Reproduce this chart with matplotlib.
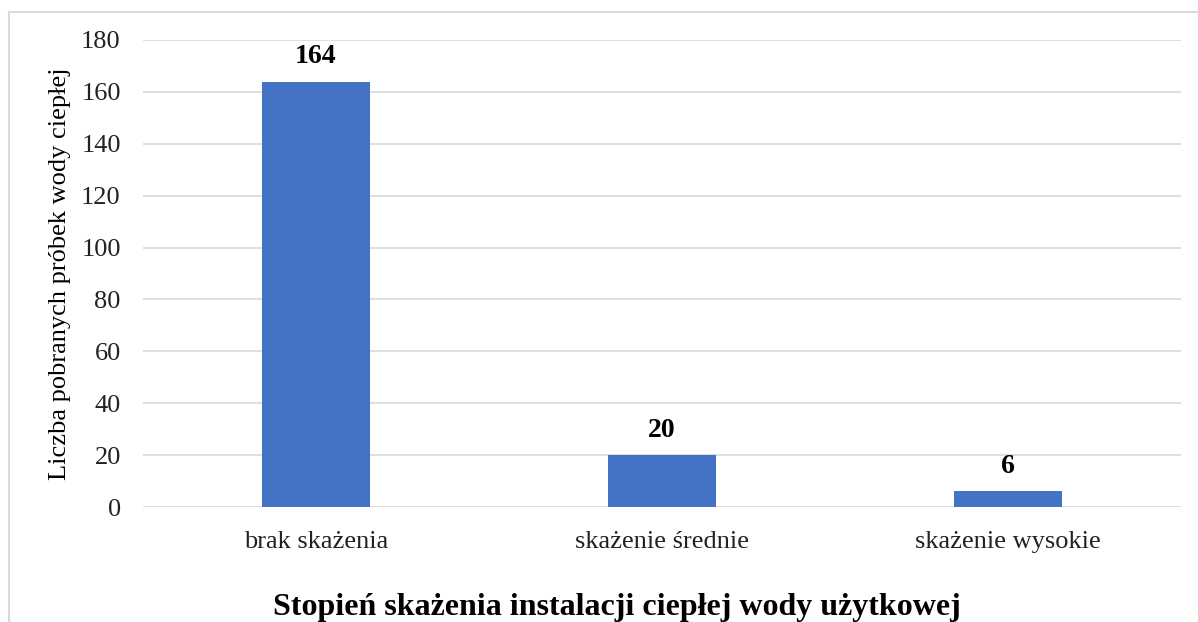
import matplotlib.pyplot as plt
from matplotlib.lines import Line2D

# data
categories = ["brak skażenia", "skażenie średnie", "skażenie wysokie"]
counts = [164, 20, 6]
y_ticks = list(range(0, 181, 20))

plt.rcParams["font.family"] = ["Liberation Serif", "DejaVu Serif"]

W, H = 1198, 622
fig = plt.figure(figsize=(W / 100, H / 100), dpi=100)
ax = fig.add_axes([143 / W, 1 - 507 / H, (1181 - 143) / W, (507 - 40) / H])

x = range(len(categories))
ax.bar(x, counts, width=0.315, color="#4472C4", zorder=3)

for i, v in enumerate(counts):
    ax.annotate(str(v), (i, v), xytext=(0, 9), textcoords="offset points",
                ha="center", va="bottom", fontsize=20, fontweight="bold")

ax.set_xlim(-0.5, len(categories) - 0.5)
ax.set_ylim(0, 180)
ax.set_yticks(y_ticks)
ax.set_xticks(list(x))
ax.set_xticklabels(categories)
ax.tick_params(axis="both", length=0, labelsize=19, colors="#222222")
ax.tick_params(axis="x", pad=17)
ax.tick_params(axis="y", pad=16)
ax.grid(axis="y", color="#d9d9d9", linewidth=1.2, zorder=0)
for s in ["top", "right", "left", "bottom"]:
    ax.spines[s].set_visible(False)

ax.set_ylabel("Liczba pobranych próbek wody ciepłej", fontsize=19)
ax.yaxis.set_label_coords((71 - 143) / (1181 - 143), 0.5)

fig.text(617 / W, 1 - 608 / H, "Stopień skażenia instalacji ciepłej wody użytkowej",
         ha="center", va="center", fontsize=23, fontweight="bold")

# outer chart border (cut off on right and bottom)
bx, by = 8.5 / W, 1 - 11.5 / H
fig.add_artist(Line2D([bx, 1.0], [by, by], transform=fig.transFigure, color="#d9d9d9", linewidth=1.5))
fig.add_artist(Line2D([bx, bx], [by, 0.0], transform=fig.transFigure, color="#d9d9d9", linewidth=1.5))

fig.savefig("out.png", dpi=100)
